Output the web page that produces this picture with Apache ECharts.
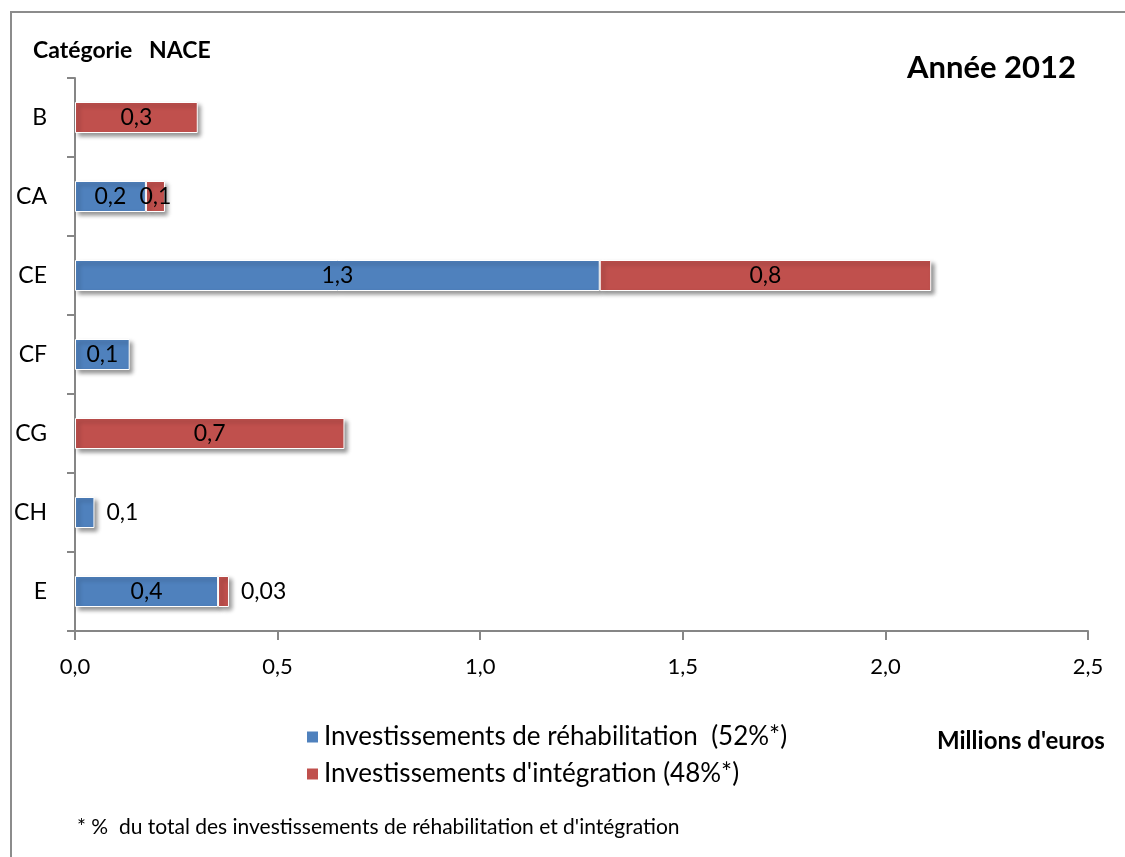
<!DOCTYPE html>
<html>
<head>
<meta charset="utf-8">
<script src="https://cdn.jsdelivr.net/npm/echarts@6/dist/echarts.min.js"></script>
<style>
  html, body { margin: 0; padding: 0; background: #fff; }
  #chart { width: 1125px; height: 857px; }
</style>
</head>
<body>
<div id="chart"></div>
<script>
  // categories NACE, top to bottom
  const categories = ['B', 'CA', 'CE', 'CF', 'CG', 'CH', 'E']
  // millions d'euros
  const rehab = [null, 0.175, 1.295, 0.135, null, 0.048, 0.353]
  const integ = [0.303, 0.047, 0.818, null, 0.665, null, 0.027]
  const rehabLabels = ['', '0,2', '1,3', '0,1', '', '0,1', '0,4']
  const integLabels = ['0,3', '0,1', '0,8', '', '0,7', '', '0,03']
  const xTicks = [0, 0.5, 1, 1.5, 2, 2.5]

  const FONT = 'Lato'
  // labels drawn next to the bar instead of inside
  const outside = { rehab: ['CH'], integ: ['E'] }

  function buildData(values, texts, key) {
    return values.map(function (v, i) {
      let item = { value: v, label: { formatter: texts[i] } }
      if (outside[key].indexOf(categories[i]) >= 0) {
        item.label.position = 'right'
        item.label.distance = 12
      }
      return item
    })
  }

  let barItem = function (color) {
    return {
      color: color,
      borderColor: '#fff',
      borderWidth: 1,
      shadowColor: 'rgba(0,0,0,0.4)',
      shadowBlur: 4,
      shadowOffsetX: 3,
      shadowOffsetY: 3
    }
  }

  let myChart = echarts.init(document.getElementById('chart'))
  let option = {
    backgroundColor: '#fff',
    animation: false,
    textStyle: { fontFamily: FONT },
    graphic: [
      {
        type: 'rect',
        shape: { x: 11, y: 12, width: 1300, height: 1000 },
        style: { fill: 'none', stroke: '#8c8c8c', lineWidth: 2 },
        silent: true
      },
      {
        type: 'text', left: 33, top: 39,
        style: { text: 'Catégorie   NACE', font: 'bold 23px ' + FONT, fill: '#000' }
      },
      {
        type: 'text', left: 907, top: 52,
        style: { text: 'Année 2012', font: 'bold 31px ' + FONT, fill: '#000' }
      },
      {
        type: 'text', left: 937, top: 729,
        style: { text: "Millions d'euros", font: 'bold 24px ' + FONT, fill: '#000' }
      },
      {
        type: 'text', left: 77, top: 817,
        style: { text: "* %  du total des investissements de réhabilitation et d'intégration", font: '21px ' + FONT, fill: '#000' }
      }
    ],
    legend: {
      orient: 'vertical',
      left: 300,
      top: 719,
      itemWidth: 13,
      itemHeight: 13,
      itemGap: 11,
      icon: 'rect',
      textStyle: { fontSize: 26, color: '#000', fontFamily: FONT },
      data: ['Investissements de réhabilitation  (52%*)', "Investissements d'intégration (48%*)"]
    },
    grid: {
      left: 75,
      top: 78,
      width: 1013,
      height: 553
    },
    xAxis: {
      type: 'value',
      min: 0,
      max: 2.5,
      interval: 0.5,
      splitLine: { show: false },
      axisLine: { show: true, lineStyle: { color: '#868686', width: 2 } },
      axisTick: { show: true, length: 9, lineStyle: { color: '#868686', width: 2 } },
      axisLabel: {
        fontSize: 22,
        color: '#000',
        margin: 25,
        formatter: function (v) {
          return xTicks.indexOf(v) >= 0 ? v.toFixed(1).replace('.', ',') : ''
        }
      }
    },
    yAxis: {
      type: 'category',
      inverse: true,
      data: categories,
      axisLine: { show: true, lineStyle: { color: '#868686', width: 2 } },
      axisTick: { show: true, length: 8, lineStyle: { color: '#868686', width: 2 } },
      axisLabel: { fontSize: 23, color: '#000', margin: 28 }
    },
    series: [
      {
        name: 'Investissements de réhabilitation  (52%*)',
        type: 'bar',
        stack: 'total',
        barWidth: 31,
        itemStyle: barItem('#4F81BD'),
        label: { show: true, position: 'inside', fontSize: 23, color: '#000', fontFamily: FONT },
        data: buildData(rehab, rehabLabels, 'rehab')
      },
      {
        name: "Investissements d'intégration (48%*)",
        type: 'bar',
        stack: 'total',
        barWidth: 31,
        itemStyle: barItem('#C0504D'),
        label: { show: true, position: 'inside', fontSize: 23, color: '#000', fontFamily: FONT },
        data: buildData(integ, integLabels, 'integ')
      }
    ]
  }
  myChart.setOption(option)
</script>
</body>
</html>
